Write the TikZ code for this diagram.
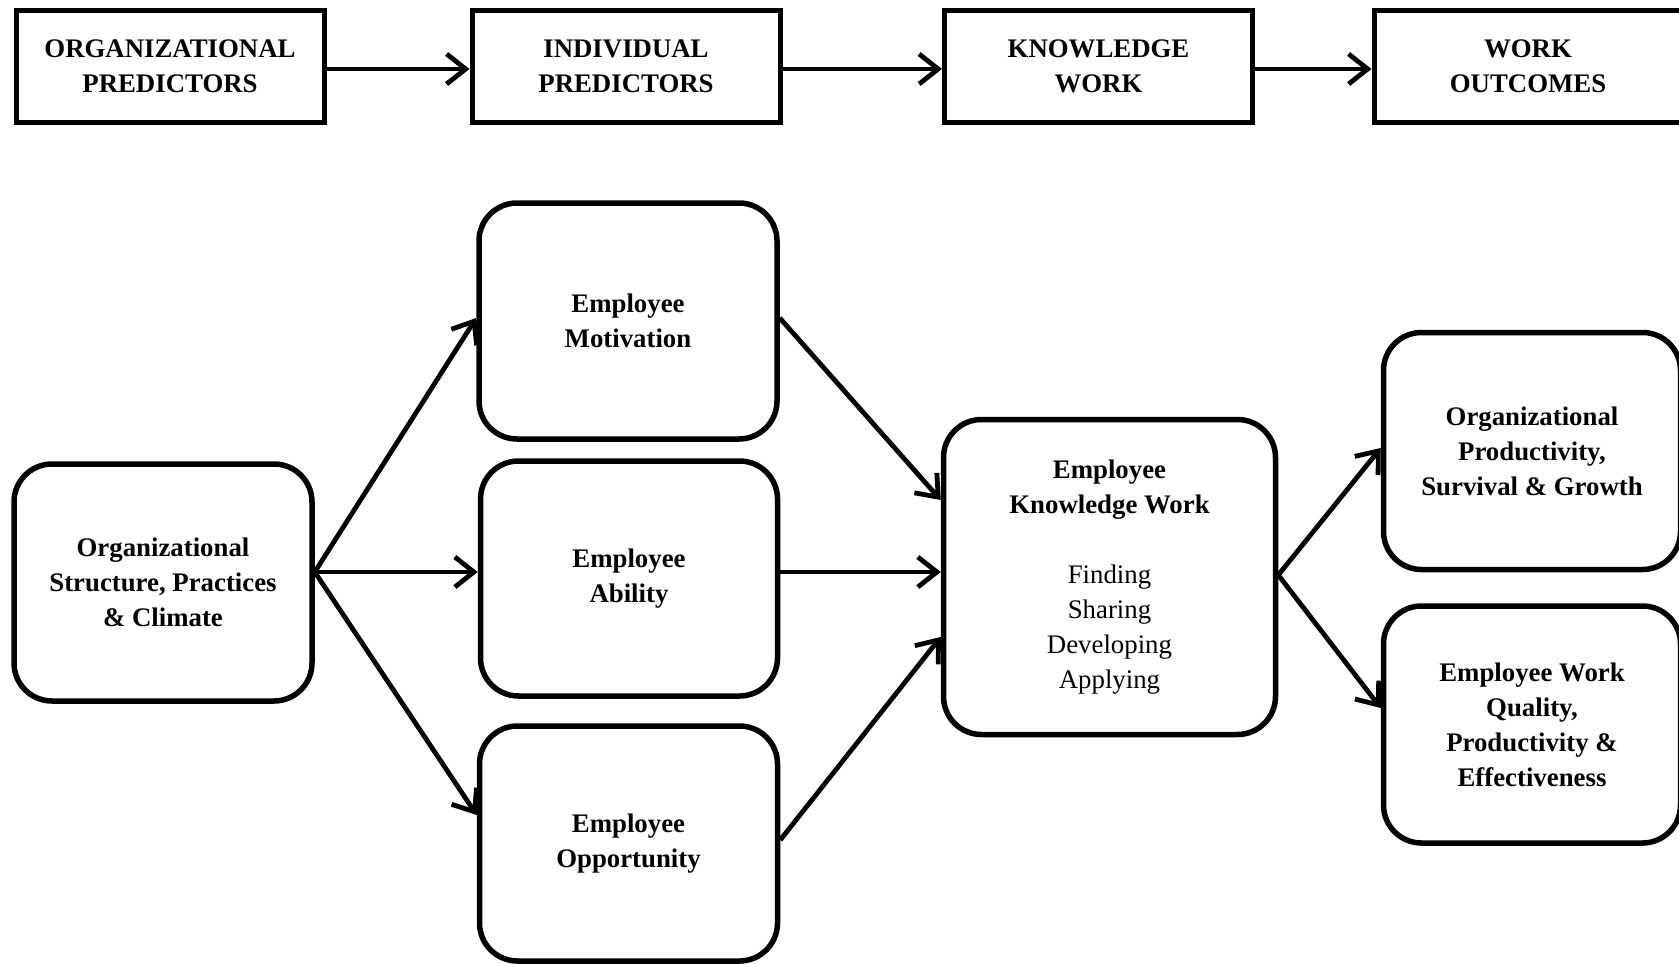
\documentclass[tikz,border=0pt]{standalone}
\usepackage{fontspec}
\setmainfont{Liberation Serif}
\usetikzlibrary{arrows.meta,calc}
\tikzset{
  topbox/.style={draw, line width=5pt, rectangle, minimum width=308pt, minimum height=112pt,
    inner sep=0pt, align=center, font=\fontsize{26.8}{35}\selectfont\bfseries},
  rbox/.style={draw, line width=5.5pt, rectangle, rounded corners=38pt, inner sep=0pt,
    align=center, font=\fontsize{26.8}{35}\selectfont\bfseries},
  conn/.style={line width=4.8pt, -{Straight Barb[length=19pt,width=30pt,line width=4.8pt]}}
}
\begin{document}
\begin{tikzpicture}[x=1pt,y=-1pt]
\fill[white] (0,0) rectangle (1679,964);
\useasboundingbox (0,0) rectangle (1679,964);
% top row
\node[topbox] (t1) at (170,66) {ORGANIZATIONAL\\PREDICTORS};
\node[topbox] (t2) at (626,66) {INDIVIDUAL\\PREDICTORS};
\node[topbox] (t3) at (1098.5,66) {KNOWLEDGE\\WORK};
\node[topbox] (t4) at (1528,66) {WORK\\OUTCOMES};
\draw[conn] ($(t1.east)+(0,3)$) -- ($(t2.west)+(0,3)$);
\draw[conn] ($(t2.east)+(0,3)$) -- ($(t3.west)+(0,3)$);
\draw[conn] ($(t3.east)+(0,3)$) -- ($(t4.west)+(0,3)$);
% main boxes
\node[rbox, minimum width=298pt, minimum height=237pt] (org) at (163,582.5)
  {Organizational\\Structure, Practices\\\& Climate};
\node[rbox, minimum width=298pt, minimum height=236pt] (mot) at (628,321)
  {Employee\\Motivation};
\node[rbox, minimum width=297pt, minimum height=235pt] (abi) at (629,578.5)
  {Employee\\Ability};
\node[rbox, minimum width=298pt, minimum height=235pt] (opp) at (628.5,843.5)
  {Employee\\Opportunity};
\node[rbox, minimum width=332pt, minimum height=315pt] (kw) at (1109.5,577)
  {Employee\\Knowledge Work\\[35pt]\mdseries Finding\\\mdseries Sharing\\\mdseries Developing\\\mdseries Applying};
\node[rbox, minimum width=297pt, minimum height=237pt] (op) at (1532,451)
  {Organizational\\Productivity,\\Survival \& Growth};
\node[rbox, minimum width=297pt, minimum height=237pt] (ewq) at (1532,724.5)
  {Employee Work\\Quality,\\Productivity \&\\Effectiveness};
% connectors
\draw[conn] ($(org.east)+(0,-10.5)$) -- ($(mot.west)+(0,-3)$);
\draw[conn] ($(org.east)+(0,-10.5)$) -- ($(abi.west)+(0,-6.5)$);
\draw[conn] ($(org.east)+(0,-10.5)$) -- ($(opp.west)+(0,-28.5)$);
\draw[conn] ($(mot.east)+(0,-3)$) -- ($(kw.west)+(0,-77)$);
\draw[conn] ($(abi.east)+(0,-6.5)$) -- ($(kw.west)+(0,-5)$);
\draw[conn] ($(opp.east)+(0,-3.5)$) -- ($(kw.west)+(0,60)$);
\draw[conn] ($(kw.east)+(0,-2)$) -- ($(op.west)+(0,-3)$);
\draw[conn] ($(kw.east)+(0,-2)$) -- ($(ewq.west)+(0,-16.5)$);
\end{tikzpicture}
\end{document}
